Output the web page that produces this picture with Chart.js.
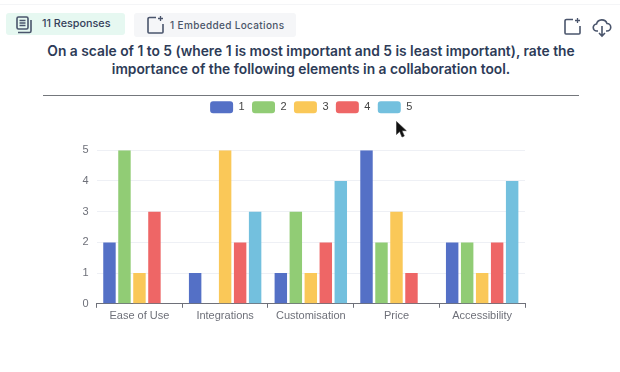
<!DOCTYPE html>
<html><head><meta charset="utf-8">
<script src="https://cdn.jsdelivr.net/npm/chart.js@4"></script>
<style>
html,body{margin:0;padding:0;background:#fff;width:620px;height:372px;overflow:hidden;font-family:Inter,sans-serif}
.abs{position:absolute}
#topline{left:0;top:4px;width:620px;height:1px;background:#f4f5f7}
#chip1{left:6px;top:13px;width:119px;height:22px;background:#e6f8f1;border-radius:3px}
#chip2{left:134px;top:13px;width:162px;height:24px;background:#f5f6f8;border-radius:3px}
.chipt{line-height:12px;white-space:nowrap}
#t1{left:42px;top:18px;color:#35405a;font-weight:500;font-size:10.8px}
#t2{left:170px;top:19px;color:#4a5568;font-weight:500;font-size:10px;letter-spacing:.35px}
#title{left:30px;top:42px;width:562px;text-align:center;font-size:13.8px;line-height:18px;font-weight:600;color:#2d3b57}
#rule{left:43px;top:95px;width:536px;height:1px;background:#74777c}
#cv{left:0;top:90px}
svg{position:absolute;overflow:visible}
</style></head><body>
<div class="abs" id="topline"></div>
<div class="abs" id="chip1"></div><div class="abs" id="chip2"></div>
<svg style="left:16px;top:16px" width="18" height="18" fill="none" stroke="#4a556c" stroke-width="1.6"><rect x="1" y="1" width="11" height="12" rx="1.5"/><path d="M3.5 4.5h6M3.5 7h6M3.5 9.5h6"/><path d="M15 4v11a1.5 1.5 0 0 1-1.5 1.5H2"/></svg>
<div class="abs chipt" id="t1">11 Responses</div>
<svg style="left:147px;top:16px" width="18" height="18" fill="none" stroke="#4a556c" stroke-width="1.6"><path d="M9 1.5H2.5A1.5 1.5 0 0 0 1 3v13a1 1 0 0 0 1 1h13a1 1 0 0 0 1-1V8"/><path d="M13.500 0v5M11 2.500h5" stroke-width="1.300"/></svg>
<div class="abs chipt" id="t2">1 Embedded Locations</div>
<svg style="left:564px;top:18px" width="18" height="18" fill="none" stroke="#4a556c" stroke-width="1.6"><path d="M9 1.500H2.500A1.500 1.500 0 0 0 1 3v12a1 1 0 0 0 1 1h13a1 1 0 0 0 1-1V8"/><path d="M13.500 0v5M11 2.500h5" stroke-width="1.300"/></svg>
<svg style="left:593px;top:19px" width="18" height="18" fill="none" stroke="#4a556c" stroke-width="1.6"><path d="M5 12H4a3.500 3.500 0 0 1-.5-7A5.500 5.500 0 0 1 14 4.500a3.700 3.700 0 0 1 0 7.500h-1"/><path d="M9 7v10M6 14l3 3 3-3"/></svg>
<div class="abs" id="title">On a scale of 1 to 5 (where 1 is most important and 5 is least important), rate the importance of the following elements in a collaboration tool.</div>
<div class="abs" id="rule"></div>
<canvas class="abs" id="cv" width="620" height="240"></canvas>
<svg style="left:396px;top:121px;z-index:5" width="12" height="18"><path d="M0.500 0.500v13l3.200-3 2.300 5.500 2.300-1-2.300-5.300h4.300z" fill="#111" stroke="#333" stroke-width=".6"/></svg>
<script>
const categories = ["Ease of Use","Integrations","Customisation","Price","Accessibility"];
const seriesNames = ["1","2","3","4","5"];
const values1 = [2,1,1,5,2];
const values2 = [5,0,3,2,2];
const values3 = [1,5,1,3,1];
const values4 = [3,2,2,1,2];
const values5 = [0,3,4,0,4];
const colors = ["#5470c6","#91cc75","#fac858","#ee6666","#73c0de"];
const allValues = [values1,values2,values3,values4,values5];
const yTicks = [0,1,2,3,4,5];
const legendShift = {id:'legendShift',afterLayout(c){const l=c.legend;l.left+=11.5;l.right+=11.5;l.top-=27;l.bottom-=27;}};
new Chart(document.getElementById('cv'),{
 type:'bar',
 plugins:[legendShift],
 data:{labels:categories,datasets:allValues.map((v,i)=>({label:seriesNames[i],data:v,backgroundColor:colors[i],borderWidth:0,categoryPercentage:0.875,barPercentage:0.83}))},
 options:{
  responsive:false,animation:false,
  layout:{padding:{left:74.500,right:95,top:31,bottom:5}},
  plugins:{
   tooltip:{enabled:false},
   legend:{position:'top',align:'center',
    labels:{boxWidth:23,boxHeight:12,useBorderRadius:true,borderRadius:3,padding:7.300,color:'#444',font:{family:'Liberation Sans',size:11}}}
  },
  scales:{
   x:{grid:{drawOnChartArea:false,drawTicks:true,tickLength:4,color:'#6e7079',offset:true},border:{color:'#6e7079',width:1},
      ticks:{color:'#6e7079',font:{family:'Liberation Sans',size:11},padding:2,maxRotation:0}},
   y:{min:0,max:5,afterBuildTicks(a){a.ticks=yTicks.map(v=>({value:v}));},
      grid:{color:'#eef0f5',drawTicks:false},border:{display:false},
      ticks:{color:'#6e7079',font:{family:'Liberation Sans',size:11},padding:8}}
  }
 }
});
</script>
</body></html>
